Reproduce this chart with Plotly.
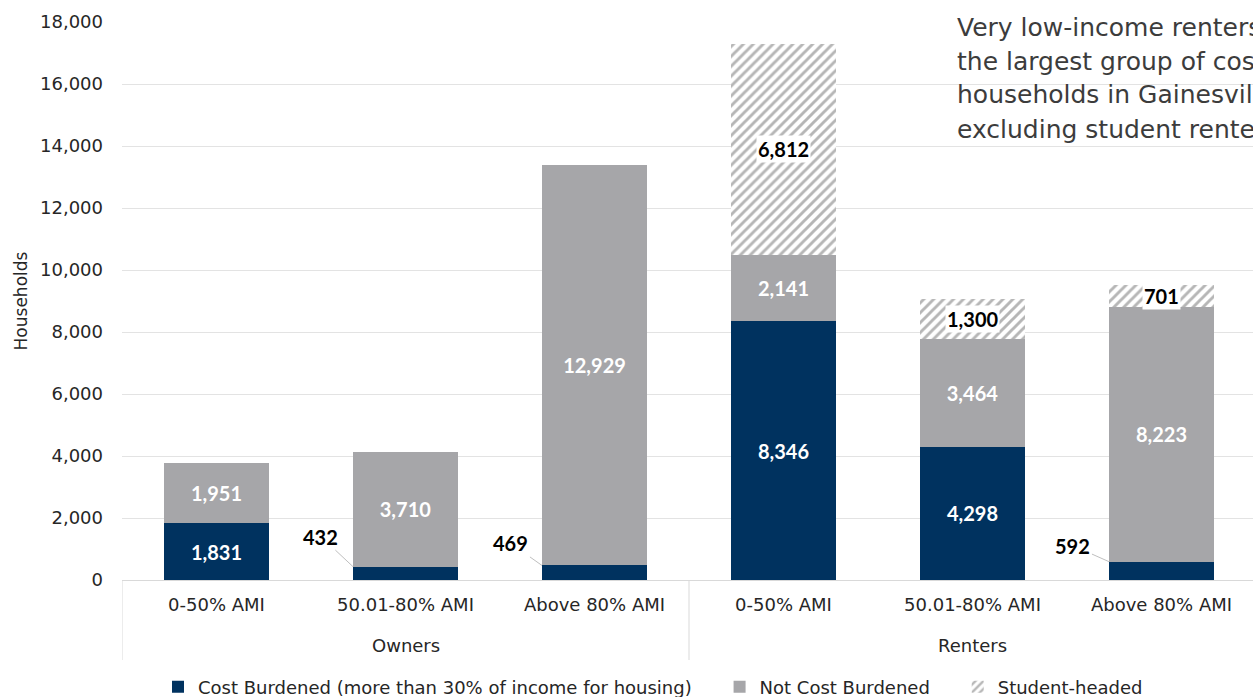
import plotly.graph_objects as go

categories = ["0-50% AMI", "50.01-80% AMI", "Above 80% AMI",
              "0-50% AMI", "50.01-80% AMI", "Above 80% AMI"]
groups = ["Owners", "Renters"]
cost_burdened = [1831, 432, 469, 8346, 4298, 592]
not_burdened = [1951, 3710, 12929, 2141, 3464, 8223]
student_headed = [0, 0, 0, 6812, 1300, 701]
y_ticks = [0, 2000, 4000, 6000, 8000, 10000, 12000, 14000, 16000, 18000]
series_names = ["Cost Burdened (more than 30% of income for housing)",
                "Not Cost Burdened", "Student-headed"]
note_lines = ["Very low-income renters are", "the largest group of cost-burdened",
              "households in Gainesville,", "excluding student renters."]

NAVY = "#00325F"
GRAY = "#A6A6A9"
FONT = "DejaVu Sans"
VFONT = "Lato"
TXT = "#262626"
PAD = "\u00a0" * 4  # extra spacing after legend entries

# plot-area geometry in pixels (for converting pixel placements to paper coords)
L, R, T, B = 122, 1253, 22, 580
def px_x(p):
    return (p - L) / (R - L)
def px_y(p):
    return (B - p) / (B - T)

x = list(range(len(categories)))
small = [v < 1000 for v in cost_burdened]

fig = go.Figure()
fig.add_trace(go.Bar(
    x=x, y=cost_burdened, name=series_names[0] + PAD,
    marker=dict(color=NAVY, line=dict(width=0)),
    text=["" if s else f"{v:,}" for v, s in zip(cost_burdened, small)],
    textposition="inside", insidetextanchor="middle", constraintext="none",
    textfont=dict(color="white", size=20, family=VFONT, weight="bold"),
    hoverinfo="skip",
))
fig.add_trace(go.Bar(
    x=x, y=not_burdened, name=series_names[1] + PAD,
    marker=dict(color=GRAY, line=dict(width=0)),
    text=[f"{v:,}" for v in not_burdened],
    textposition="inside", insidetextanchor="middle", constraintext="none",
    textfont=dict(color="white", size=20, family=VFONT, weight="bold"),
    hoverinfo="skip",
))
fig.add_trace(go.Bar(
    x=x, y=student_headed, name=series_names[2],
    marker=dict(color="white", line=dict(width=0),
                pattern=dict(shape="/", fgcolor="#6E6E6E", bgcolor="white",
                             size=7, solidity=0.42, fillmode="overlay")),
    hoverinfo="skip",
))

annotations = []
for i, (c, n, s) in enumerate(zip(cost_burdened, not_burdened, student_headed)):
    if s > 0:
        annotations.append(dict(
            x=i, y=c + n + s / 2, xref="x", yref="y", text=f"<b>{s:,}</b>",
            showarrow=False, bgcolor="white", borderpad=1,
            font=dict(color="black", size=20, family=VFONT)))
offsets = {1: (-32, -30), 2: (-31, -22), 5: (-36, -16)}
for i, v in enumerate(cost_burdened):
    if small[i]:
        ax, ay = offsets[i]
        annotations.append(dict(
            x=i - 0.278, y=v, xref="x", yref="y", text=f"<b>{v:,}</b>",
            showarrow=True, arrowhead=0, arrowwidth=1, arrowcolor="#BFBFBF",
            ax=ax, ay=ay, standoff=0,
            font=dict(color="black", size=20, family=VFONT)))
for gi, g in enumerate(groups):
    annotations.append(dict(
        x=gi * 3 + 1, y=px_y(645), xref="x", yref="paper", text=g,
        showarrow=False, yanchor="middle",
        font=dict(color=TXT, size=18, family=FONT)))
for li, line in enumerate(note_lines):
    annotations.append(dict(
        x=px_x(955), y=px_y(27 + 34 * li), xref="paper", yref="paper", text=line,
        showarrow=False, xanchor="left", yanchor="middle", align="left",
        font=dict(color="#3C3C3C", size=25, family=FONT)))

shapes = []
for gx in [-0.5, 2.5]:
    shapes.append(dict(type="line", xref="x", yref="paper", x0=gx, x1=gx,
                       y0=0, y1=px_y(660), line=dict(color="#D9D9D9", width=1)))

fig.update_layout(
    width=1253, height=697,
    barmode="stack", bargap=0.444,
    plot_bgcolor="white", paper_bgcolor="white",
    margin=dict(l=L, r=1253 - R, t=T, b=697 - B, autoexpand=False),
    font=dict(family=FONT, color=TXT),
    showlegend=True,
    legend=dict(orientation="h", x=px_x(158), xanchor="left",
                yref="container", y=1 - 687 / 697, yanchor="middle",
                font=dict(size=18, family=FONT, color=TXT),
                traceorder="normal", itemwidth=30),
    annotations=annotations,
    shapes=shapes,
)

fig.update_xaxes(
    tickmode="array", tickvals=x, ticktext=categories,
    range=[-0.5, -0.5 + (R - L) / 189.0], automargin=False,
    showgrid=False, zeroline=False, showline=True, linecolor="#D9D9D9", linewidth=1,
    ticks="", ticklabelstandoff=8, tickfont=dict(size=18, family=FONT, color=TXT),
)
fig.update_yaxes(
    range=[0, 18000], tickvals=y_ticks, tickformat=",", automargin=False,
    showgrid=True, gridcolor="#E3E3E3", gridwidth=1, zeroline=False,
    showline=False, ticks="", ticklabelstandoff=18,
    tickfont=dict(size=18, family=FONT, color=TXT),
    title=dict(text="Households", font=dict(size=17, family=FONT, color=TXT),
               standoff=8),
)

fig.write_html("out.html", config={"displayModeBar": False},
               post_script="document.body.style.margin='0';")
